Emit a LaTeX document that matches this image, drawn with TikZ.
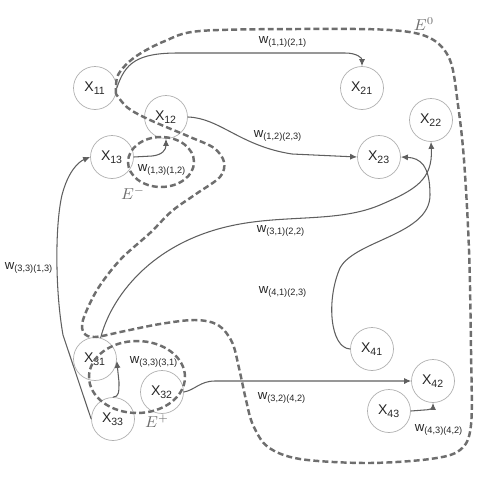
\documentclass[tikz,border=0pt]{standalone}
\usepackage{fontspec}
\setmainfont{Liberation Sans}
\definecolor{gris}{RGB}{95,95,95}
\definecolor{grisclair}{RGB}{175,175,175}
\definecolor{grisfonce}{RGB}{110,110,110}
\usepackage{tikz}
\usetikzlibrary{arrows.meta}

\begin{document}
\begin{tikzpicture}[x=0.02cm,y=-0.02cm,
		etat/.style={circle,draw=grisclair,line width=0.4pt,minimum size=0.86cm,inner sep=0pt,font=\fontsize{8}{9}\selectfont,text=black!85},
		lien/.style={gris,line width=0.6pt,-{Latex[length=4pt,width=3.5pt]}},
		zone/.style={grisfonce,line width=1.4pt,dash pattern=on 3.4pt off 1.8pt},
		poids/.style={font=\fontsize{7.5}{8}\selectfont,text=black!85},
		ens/.style={font=\fontsize{9}{10}\selectfont,text=grisfonce}]
	\useasboundingbox (0,0) rectangle (500,494);
	% etats
	\node[etat] (X11) at (95,88) {X\textsubscript{11}};
	\node[etat] (X12) at (166,117) {X\textsubscript{12}};
	\node[etat] (X13) at (112,157) {X\textsubscript{13}};
	\node[etat] (X21) at (362,88) {X\textsubscript{21}};
	\node[etat] (X22) at (431,120) {X\textsubscript{22}};
	\node[etat] (X23) at (379,157) {X\textsubscript{23}};
	\node[etat] (X31) at (95,359) {X\textsubscript{31}};
	\node[etat] (X32) at (162,392) {X\textsubscript{32}};
	\node[etat] (X33) at (113,419) {X\textsubscript{33}};
	\node[etat] (X41) at (372,349) {X\textsubscript{41}};
	\node[etat] (X42) at (433,381) {X\textsubscript{42}};
	\node[etat] (X43) at (389,411) {X\textsubscript{43}};
	% ensembles
	\draw[zone] plot[smooth,tension=0.55] coordinates {(116,94) (118,75) (135,57) (165,41) (200,31) (300,29) (390,30) (430,38) (450,60) (458,105) (464,160) (469,250) (471,350) (471,425) (460,450) (430,459) (367,463) (300,459) (268,447) (253,425) (246,400) (239,368) (232,342) (218,325) (195,320) (160,324) (125,331) (95,337) (84,333) (83,320) (97,290) (120,260) (150,233) (172,211) (196,194) (220,177) (224,162) (214,148) (190,137) (150,120) (128,108) (116,94)};
	\draw[zone] (161,162) ellipse [x radius=0.66cm,y radius=0.5cm];
	\draw[zone] (137,377) ellipse [x radius=0.96cm,y radius=0.72cm];
	\node[ens] (E0) at (424,24) {$E^{0}$};
	\node[ens] (Em) at (133,193) {$E^{-}$};
	\node[ens] (Ep) at (157,421) {$E^{+}$};
	% liens
	\draw[lien] (X11.east) .. controls (125,63) and (137,53) .. (178,53) -- (345,53) .. controls (357,53) and (362,58) .. (X21.north);
	\draw[lien] (X12.east) .. controls (220,118) and (240,146) .. (292,154) -- (X23.west);
	\draw[lien] (X13.east) -- (152,156) .. controls (162,155) and (166,150) .. (X12.south);
	\draw[lien] (X33.west) -- (63,335) .. controls (55,290) and (55,225) .. (62,195) .. controls (68,172) and (78,162) .. (X13.west);
	\draw[lien] (X33.north) .. controls (119,397) and (119,392) .. (119,382) -- (X31.-5);
	\draw[lien] (X31.75) .. controls (110,300) and (150,240) .. (240,224) .. controls (290,215) and (340,222) .. (380,205) .. controls (415,190) and (433,180) .. (X22.south);
	\draw[lien] (X41.west) .. controls (330,348) and (326,300) .. (340,268) .. controls (355,240) and (430,235) .. (430,195) .. controls (430,165) and (420,158) .. (X23.east);
	\draw[lien] (X32.east) .. controls (195,390) and (200,381) .. (215,381) -- (X42.west);
	\draw[lien] (X43.east) -- (424,410) .. controls (431,410) and (433,407) .. (X42.south);
	% poids
	\node[poids] (w1) at (283,42) {w\textsubscript{(1,1)(2,1)}};
	\node[poids] (w2) at (278,136) {w\textsubscript{(1,2)(2,3)}};
	\node[poids] (w3) at (162,170) {w\textsubscript{(1,3)(1,2)}};
	\node[poids] (w4) at (29,268) {w\textsubscript{(3,3)(1,3)}};
	\node[poids] (w5) at (154,362) {w\textsubscript{(3,3)(3,1)}};
	\node[poids] (w6) at (281,231) {w\textsubscript{(3,1)(2,2)}};
	\node[poids] (w7) at (283,292) {w\textsubscript{(4,1)(2,3)}};
	\node[poids] (w8) at (282,398) {w\textsubscript{(3,2)(4,2)}};
	\node[poids] (w9) at (439,430) {w\textsubscript{(4,3)(4,2)}};
\end{tikzpicture}
\end{document}
